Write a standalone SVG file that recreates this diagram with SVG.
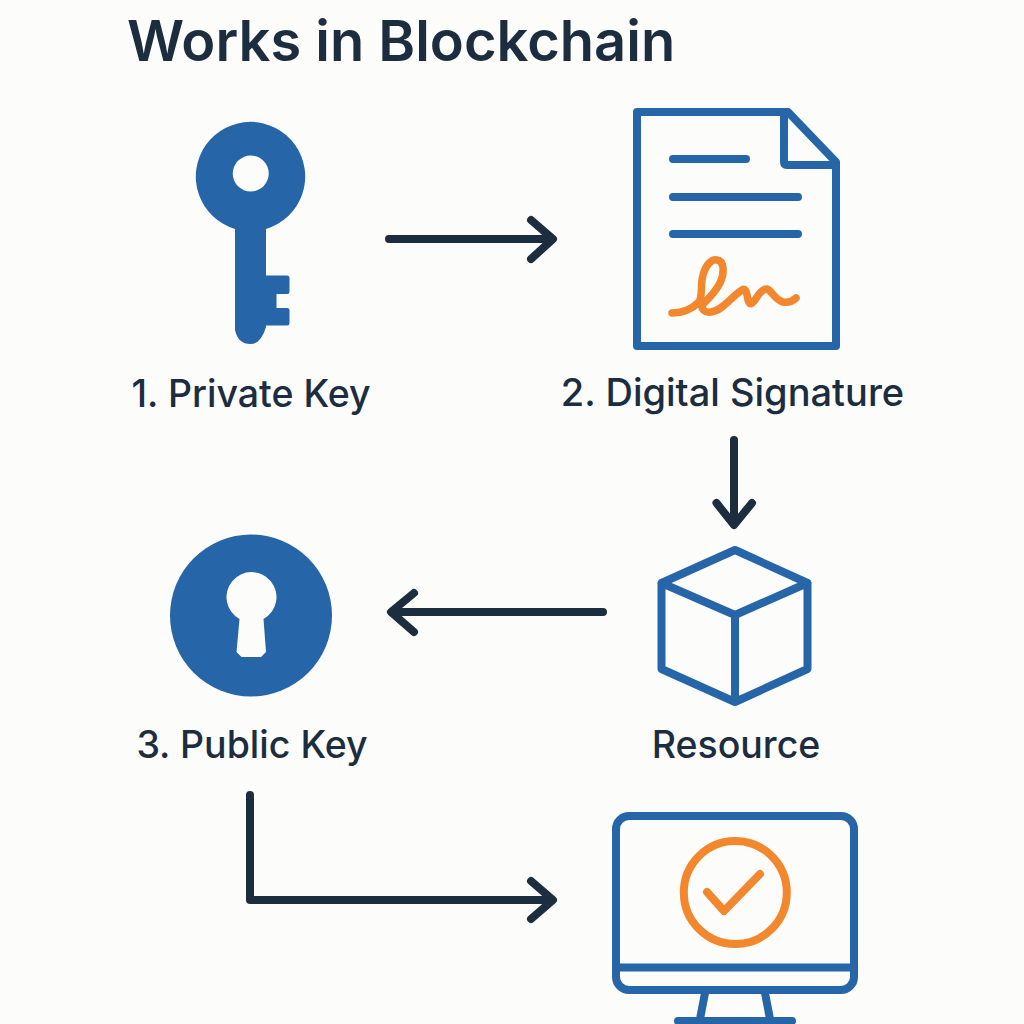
<svg xmlns="http://www.w3.org/2000/svg" width="1024" height="1024" viewBox="0 0 1024 1024">
<style>
.t{font-family:Inter,"Noto Sans",sans-serif;font-weight:500;fill:#1b2d3f;font-size:37.500px;text-anchor:middle}
.title{font-family:Inter,"Noto Sans",sans-serif;font-weight:600;fill:#1b2d3f;font-size:56px}
.b{fill:none;stroke:#2565a8;stroke-width:8;stroke-linejoin:round;stroke-linecap:round}
.o{fill:none;stroke:#f2872d;stroke-linejoin:round;stroke-linecap:round}
.c{fill:none;stroke:#1b2d3f;stroke-width:8;stroke-linecap:round;stroke-linejoin:round}
</style>
<rect width="1024" height="1024" fill="#fcfcfa"/>
<text class="title" x="127" y="61">Works in Blockchain</text>
<g id="private-key">
<path fill="#2565a8" fill-rule="evenodd" d="M235 229A54.700 54.700 0 1 1 266 229L266 275.500L287 275.500Q289.500 275.500 289.500 278L289.500 291.500Q289.500 294 287 294L276.500 294L276.500 308L287 308Q289.500 308 289.500 310.500L289.500 323Q289.500 325.500 287 325.500L266 325.500L266 327Q261 344 250.500 344Q238 344 235 330ZM250.700 155.500A18 18 0 1 0 250.800 191.500A18 18 0 1 0 250.700 155.500Z"/>
<text class="t" x="251" y="407">1. Private Key</text>
</g>
<g id="digital-signature">
<path class="b" d="M637 112L788 112L836 162L836 346L637 346Z"/>
<path class="b" d="M784 112L784 162Q784 165 787 165L836 165"/>
<path class="b" d="M673 159L746 159M673 197L798 197M673 234L798 234"/>
<path class="o" stroke-width="7.500" d="M672 313C684 313 692 309 699 302C703 296 700 285 703 275C706 264 712 259 717 260C724 261 725 272 720 283C715 293 707 300 703 304C700 309 705 313 711 312C722 311 731 297 742 290C746 287 747 294 748 300C750 306 752 304 755 300C759 294 763 288 767 289C771 290 775 300 783 302C789 303 793 301 796 298"/>
<text class="t" x="732.500" y="406" style="font-size:38px">2. Digital Signature</text>
</g>
<g id="resource">
<path class="b" d="M735 550L807.500 583L807.500 669L735 702L661.500 669L661.500 583ZM661.500 583L735 615L807.500 583M735 615L735 702"/>
<text class="t" x="736" y="758">Resource</text>
</g>
<g id="public-key">
<circle cx="251" cy="615.500" r="81" fill="#2565a8"/>
<path fill="#fcfcfa" d="M239.500 619A25 25 0 1 1 263.500 619L266 652L261 657L241.500 657L236.500 652Z"/>
<text class="t" x="252" y="758">3. Public Key</text>
</g>
<g id="monitor">
<rect class="b" x="616" y="816" width="238" height="174" rx="13"/>
<path class="b" d="M616 967.500L854 967.500"/>
<circle class="o" cx="735.300" cy="892.500" r="51.500" stroke-width="8"/>
<path class="o" stroke-width="8" d="M707 892L724 911L760 874"/>
<path class="b" d="M705 993L700 1019M765 993L770 1019M678 1021L792 1021"/>
</g>
<g id="connectors">
<path class="c" d="M389 239L550 239M531 220L553 239L531 259"/>
<path class="c" d="M734 440L734 523M716.500 503L734 525L752 503"/>
<path class="c" d="M603 612L393 612M414 593L391 612L414 632"/>
<path class="c" d="M250 795L250 900L550 900M531 881L553 900L531 919"/>
</g>
</svg>
